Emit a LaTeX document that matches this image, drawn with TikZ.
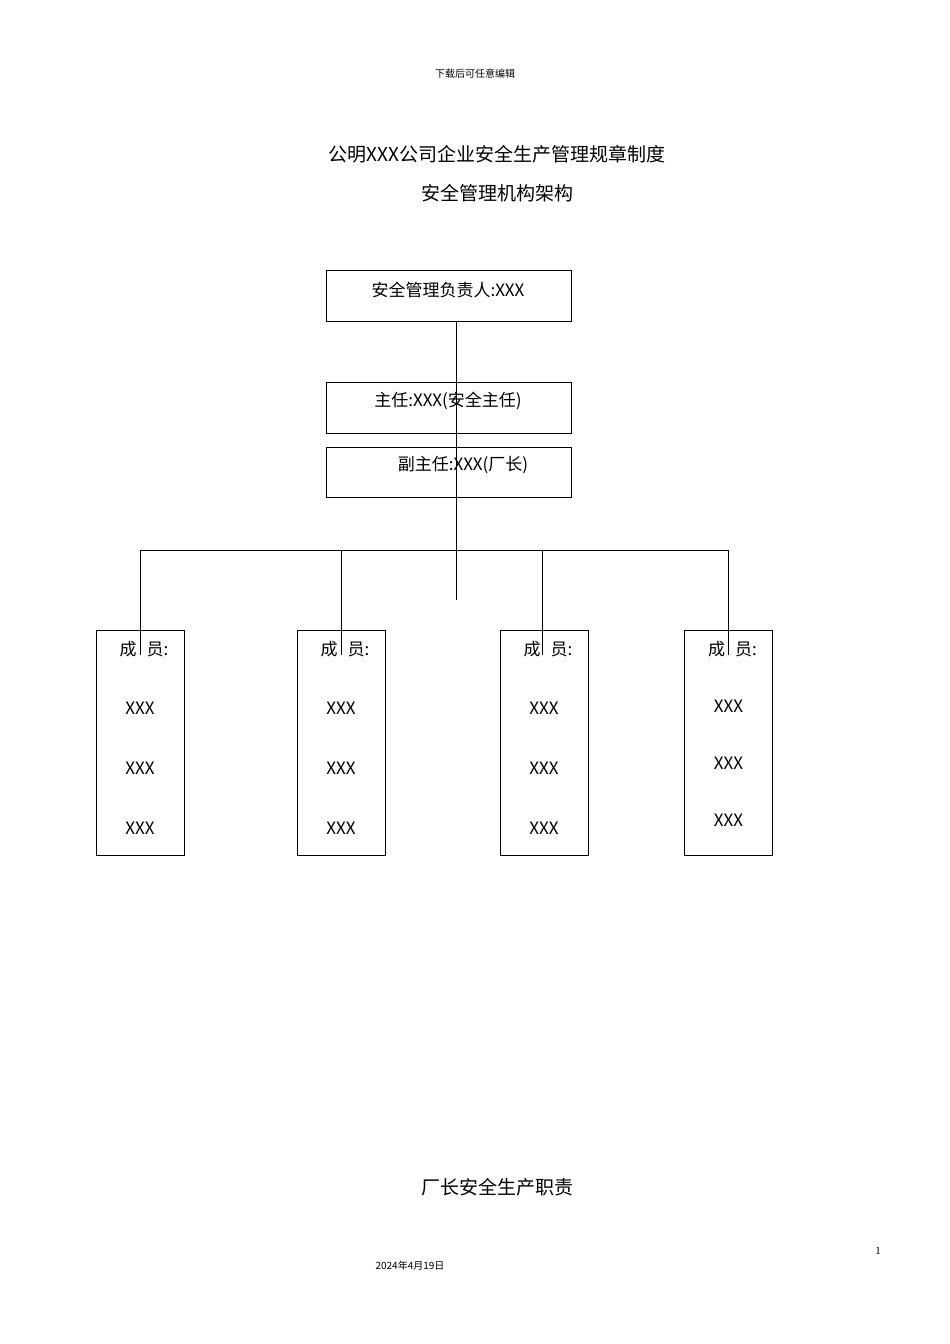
\documentclass[tikz,border=0pt]{standalone}
\usepackage{fontspec}
\setmainfont{Liberation Serif}
\newfontfamily\cjk{Noto Sans CJK SC}
\begin{document}
\begin{tikzpicture}[x=1pt,y=-1pt,
  box/.style={draw,line width=0.8pt,inner sep=0pt},
  ln/.style={line width=0.8pt},
  big/.style={font=\cjk\fontsize{19}{22}\selectfont},
  mid/.style={font=\cjk\fontsize{17}{20}\selectfont}]
\useasboundingbox (0,0) rectangle (950,1344);
\node[font=\cjk\fontsize{10}{12}\selectfont] (hd) at (475,74) {下载后可任意编辑};
\node[big] (t1) at (497,154) {公明XXX公司企业安全生产管理规章制度};
\node[big] (t2) at (497,193) {安全管理机构架构};
\node[box,minimum width=245pt,minimum height=51pt] (a) at (448.5,295.5) {};
\node[mid] (at) at (448,290) {安全管理负责人:XXX};
\node[box,minimum width=245pt,minimum height=51pt] (b) at (448.5,407.5) {};
\node[mid] (bt) at (448,401) {主任:XXX(安全主任)};
\node[box,minimum width=245pt,minimum height=50pt] (c) at (448.5,472) {};
\node[mid] (ct) at (463,465) {副主任:XXX(厂长)};
\coordinate (v1) at (456,321);
\coordinate (v2) at (456,600);
\draw[ln] (v1) -- (v2);
\coordinate (hl) at (140,550); \coordinate (hr) at (728,550);
\draw[ln] (hl) -- (hr);
\foreach \bx/\by/\lx/\n/\s in {140/140/140/m1/0, 341/341/341/m2/0, 544/544/542/m3/0, 728.5/728/728/m4/1}{
  \node[box,minimum width=88pt,minimum height=225pt] (\n) at (\bx,742.5) {};
  \coordinate (\n t) at (\lx,550); \coordinate (\n b) at (\lx,655);
  \draw[ln] (\n t) -- (\n b);
  \node[mid] (\n h) at (\bx+4,649) {成\hspace{0.6em}员:};
  \ifnum\s=0
    \node[mid] (\n a) at (\bx,708) {XXX};
    \node[mid] (\n c) at (\bx,768) {XXX};
    \node[mid] (\n d) at (\bx,828) {XXX};
  \else
    \node[mid] (\n a) at (\bx,706) {XXX};
    \node[mid] (\n c) at (\bx,763) {XXX};
    \node[mid] (\n d) at (\bx,820) {XXX};
  \fi
}
\node[big] (ft) at (497,1187) {厂长安全生产职责};
\node[font=\fontsize{11}{13}\selectfont] (pg) at (878,1251) {1};
\node[font=\cjk\fontsize{10}{12}\selectfont] (dt) at (410,1266) {2024年4月19日};
\end{tikzpicture}
\end{document}
